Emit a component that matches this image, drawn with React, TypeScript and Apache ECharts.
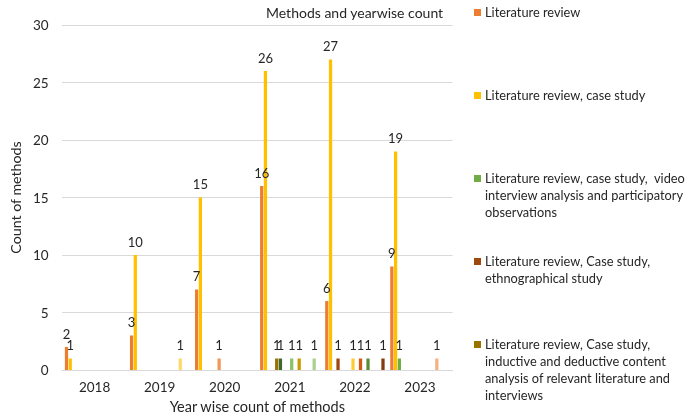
import React, { useEffect, useRef } from "react";
import * as echarts from "echarts";

const years = ["2018", "2019", "2020", "2021", "2022", "2023"];

const seriesNames = [
  "Literature review",
  "Literature review, case study",
  "Literature review, case study,  video interview analysis and participatory observations",
  "Literature review, Case study, ethnographical study",
  "Literature review, Case study, inductive and deductive content analysis of relevant literature and interviews",
  "Method 6",
  "Method 7",
  "Method 8",
  "Method 9",
  "Method 10",
  "Method 11",
  "Method 12",
  "Method 13",
  "Method 14",
  "Method 15",
  "Method 16",
];

const legendLines = [
  ["Literature review"],
  ["Literature review, case study"],
  ["Literature review, case study,  video", "interview analysis and participatory", "observations"],
  ["Literature review, Case study,", "ethnographical study"],
  ["Literature review, Case study,", "inductive and deductive content", "analysis of relevant literature and", "interviews"],
];

const s1 = [2, 3, 7, 16, 6, 9];
const s2 = [1, 10, 15, 26, 27, 19];
const s3 = [null, null, null, null, null, 1];
const s4 = [null, null, null, null, 1, null];
const s5 = [null, null, null, 1, null, null];
const s6 = [null, null, null, 1, null, null];
const s7 = [null, null, 1, null, null, null];
const s8 = [null, null, null, null, 1, null];
const s9 = [null, null, null, 1, null, null];
const s10 = [null, null, null, null, 1, null];
const s11 = [null, null, null, 1, null, null];
const s12 = [null, null, null, null, 1, null];
const s13 = [null, null, null, null, null, 1];
const s14 = [null, 1, null, null, null, null];
const s15 = [null, null, null, 1, null, null];
const s16 = [null, null, null, null, 1, null];

const seriesValues = [s1, s2, s3, s4, s5, s6, s7, s8, s9, s10, s11, s12, s13, s14, s15, s16];

const colors = [
  "#ED7D31", "#FFC000", "#70AD47",
  "#9E480E", "#997300", "#43682B",
  "#F1975A", "#FFCD33", "#8CC168",
  "#D35912", "#CC9900", "#5B8B39",
  "#F4B183", "#FFD966", "#A9D18E",
  "#843C0C",
];

const FONT = "Lato, 'Open Sans', sans-serif";
const TXT = "#262626";

export default function App() {
  const ref = useRef<HTMLDivElement>(null);
  useEffect(() => {
    if (!ref.current) return;
    const chart = echarts.init(ref.current, undefined, { renderer: "svg" });

    const legendGraphics: any[] = [];
    legendLines.forEach((lines, i) => {
      const cy = 12.5 + 83 * i;
      legendGraphics.push({
        type: "rect",
        shape: { x: 474, y: cy - 3.5, width: 7, height: 7 },
        style: { fill: colors[i] },
      });
      legendGraphics.push({
        type: "text",
        x: 485,
        y: cy - 8.35,
        style: {
          text: lines.join("\n"),
          fontSize: 12.8,
          lineHeight: 16.7,
          fontFamily: FONT,
          fill: TXT,
          verticalAlign: "top",
        },
      });
    });

    chart.setOption({
      animation: false,
      color: colors,
      textStyle: { fontFamily: FONT },
      title: {
        text: "Methods and yearwise count",
        left: 261,
        top: 0,
        textStyle: { fontSize: 14, fontWeight: "normal", color: TXT, fontFamily: FONT },
      },
      grid: { left: 53.5, right: 232.5, top: 25, bottom: 44, containLabel: false },
      xAxis: {
        type: "category",
        data: years,
        axisLine: { lineStyle: { color: "#D9D9D9", width: 1 } },
        axisTick: { show: false },
        axisLabel: { fontSize: 13.5, color: TXT, margin: 10, fontFamily: FONT },
        name: "Year wise count of methods",
        nameLocation: "middle",
        nameGap: 29,
        nameTextStyle: { fontSize: 14.5, color: TXT, fontFamily: FONT },
      },
      yAxis: {
        type: "value",
        min: 0,
        max: 30,
        interval: 5,
        axisLine: { show: false },
        axisTick: { show: false },
        splitLine: { lineStyle: { color: "#D9D9D9", width: 1 } },
        axisLabel: { fontSize: 13.5, color: TXT, margin: 13.5, fontFamily: FONT },
        name: "Count of methods",
        nameLocation: "middle",
        nameGap: 40,
        nameTextStyle: { fontSize: 14.2, color: TXT, fontFamily: FONT },
      },
      series: seriesValues.map((vals, i) => ({
        name: seriesNames[i],
        type: "bar",
        data: vals,
        barGap: "15%",
        barCategoryGap: "8.6%",
        itemStyle: { color: colors[i] },
        label: {
          show: true,
          position: "top",
          distance: 7,
          fontSize: 13,
          color: TXT,
          fontFamily: FONT,
        },
      })),
      graphic: legendGraphics,
    });
    return () => chart.dispose();
  }, []);
  return (
    <div
      ref={ref}
      style={{ position: "fixed", left: 0, top: 0, width: 685, height: 419 }}
    />
  );
}
